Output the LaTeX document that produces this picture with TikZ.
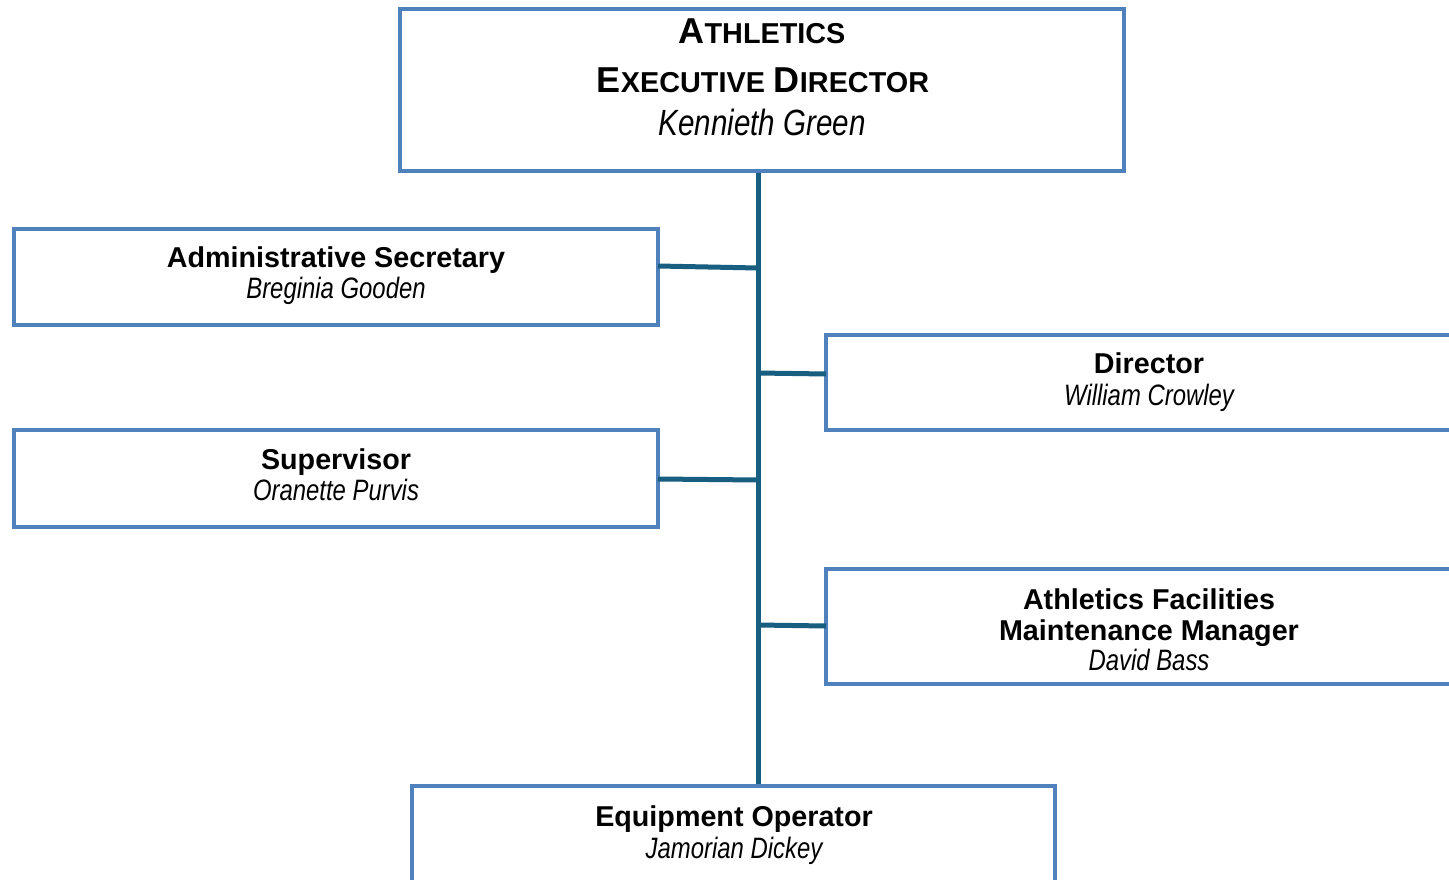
\documentclass[tikz,border=0pt]{standalone}
\usepackage{fontspec}
\setmainfont{Liberation Sans}
\newfontfamily\narrowfam{Liberation Sans}[FakeStretch=0.81]
\definecolor{boxblue}{RGB}{79,129,189}
\definecolor{trunk}{RGB}{23,94,128}
\newcommand{\bigc}[1]{{\fontsize{36}{36}\selectfont #1}}
\newcommand{\smc}[1]{{\fontsize{28.8}{36}\selectfont #1}}
\begin{document}
\begin{tikzpicture}[x=1pt,y=-1pt,
  orgbox/.style={draw=boxblue,line width=4pt,fill=white,rectangle,inner sep=0pt,outer sep=0pt},
  ttl/.style={anchor=base,inner sep=0pt,font=\bfseries\fontsize{28.7}{30}\selectfont},
  nm/.style={anchor=base,inner sep=0pt,font=\narrowfam\itshape\fontsize{29.5}{30}\selectfont},
  link/.style={draw=trunk,line width=5pt}]
\useasboundingbox (0,0) rectangle (1449,880);
\clip (0,0) rectangle (1449,880);
\fill[white] (0,0) rectangle (1449,880);
% boxes
\node[orgbox,minimum width=724pt,minimum height=162pt] (exec) at (762,90) {};
\node[orgbox,minimum width=644pt,minimum height=96pt] (admin) at (336,277) {};
\node[orgbox,minimum width=644pt,minimum height=97pt] (sup) at (336,478.5) {};
\node[orgbox,minimum width=660pt,minimum height=95pt] (dir) at (1156,382.5) {};
\node[orgbox,minimum width=660pt,minimum height=115pt] (fac) at (1156,626.5) {};
\node[orgbox,minimum width=643pt,minimum height=140pt] (equip) at (733.5,856) {};
% connector coordinates
\coordinate (ttop) at (758,171);
\coordinate (tbot) at (758,786);
\coordinate (ja) at (758,268);
\coordinate (ea) at (658,266);
\coordinate (jd) at (758,373);
\coordinate (ed) at (826,374);
\coordinate (js) at (758,480);
\coordinate (es) at (658,479);
\coordinate (jf) at (758,625);
\coordinate (ef) at (826,626);
\draw[link] (ttop) -- (tbot);
\draw[link] (ea) -- (ja);
\draw[link] (jd) -- (ed);
\draw[link] (es) -- (js);
\draw[link] (jf) -- (ef);
% redraw box borders over connector ends
\draw[boxblue,line width=4pt] (exec.south west) -- (exec.south east);
\draw[boxblue,line width=4pt] (equip.north west) -- (equip.north east);
% texts
\node[anchor=base,inner sep=0pt,font=\bfseries] (t1) at (762,44) {\bigc{A}\smc{THLETICS}};
\node[anchor=base,inner sep=0pt,font=\bfseries] (t2) at (763,93) {\bigc{E}\smc{XECUTIVE}\hspace{9pt}\bigc{D}\smc{IRECTOR}};
\node[anchor=base,inner sep=0pt,font=\narrowfam\itshape\fontsize{36.5}{36}\selectfont] (t3) at (762,136) {Kennieth Green};
\node[ttl] (a1) at (336,267) {Administrative Secretary};
\node[nm] (a2) at (336,298) {Breginia Gooden};
\node[ttl] (s1) at (336,469) {Supervisor};
\node[nm] (s2) at (336,500) {Oranette Purvis};
\node[ttl] (d1) at (1149,373) {Director};
\node[nm] (d2) at (1149,405) {William Crowley};
\node[ttl] (f1) at (1149,609) {Athletics Facilities};
\node[ttl] (f2) at (1149,640) {Maintenance Manager};
\node[nm] (f3) at (1149,670) {David Bass};
\node[ttl] (q1) at (734,826) {Equipment Operator};
\node[nm] (q2) at (734,858) {Jamorian Dickey};
\end{tikzpicture}
\end{document}
